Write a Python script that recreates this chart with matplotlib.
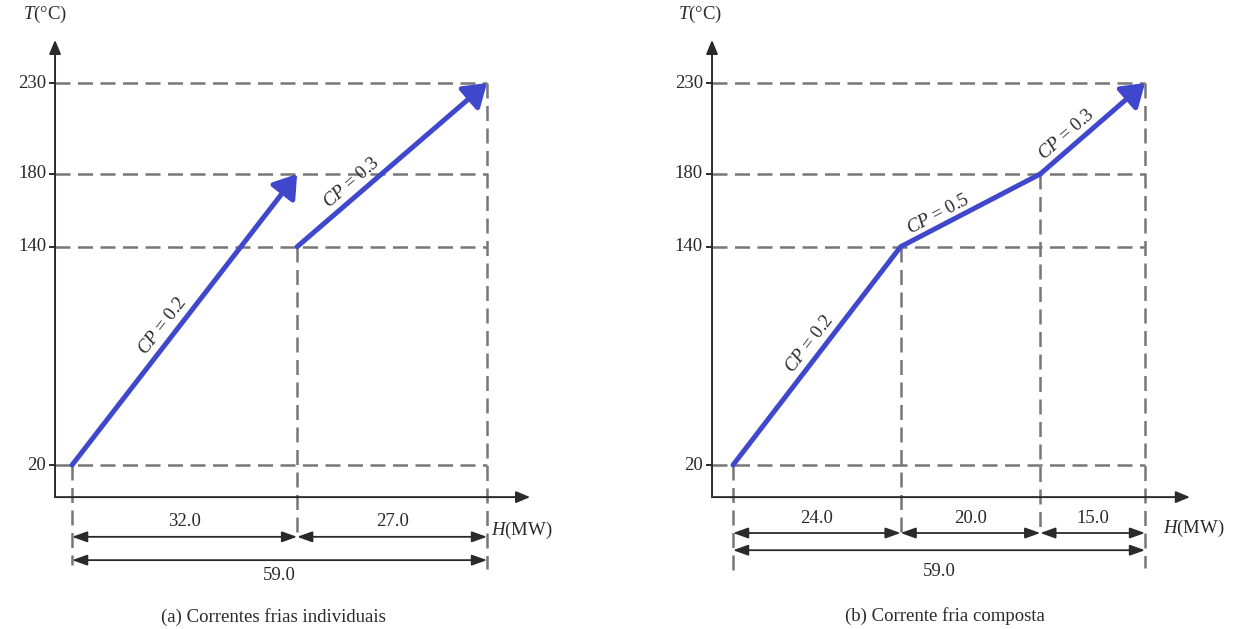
import numpy as np
import matplotlib
matplotlib.use('Agg')
import matplotlib.pyplot as plt

plt.rcParams['font.family'] = 'Liberation Serif'
plt.rcParams['mathtext.fontset'] = 'custom'
plt.rcParams['mathtext.rm'] = 'Liberation Serif'
plt.rcParams['mathtext.it'] = 'Liberation Serif:italic'

# temperatures marked on the T axis (°C)
t_ticks = [20, 140, 180, 230]

# (a) individual cold streams: H (MW) and T (°C) of each stream
a_h1 = [0, 32]
a_t1 = [20, 180]
a_cp1 = 0.2
a_h2 = [32, 59]
a_t2 = [140, 230]
a_cp2 = 0.3
a_spans = [32.0, 27.0]

# (b) composite cold curve
b_h = [0, 24, 44, 59]
b_t = [20, 140, 180, 230]
b_cp = [0.2, 0.5, 0.3]
b_spans = [24.0, 20.0, 15.0]

h_total = 59.0
captions = ['(a) Correntes frias individuais', '(b) Corrente fria composta']

BLUE = '#3f48cc'
GREY = '#777777'
INK = '#2a2a2a'
FS = 13.5

fig = plt.figure(figsize=(12.38, 6.29), dpi=100)
axa = fig.add_axes([0.0582, 0.2607, 0.3352, 0.6073])
axb = fig.add_axes([0.5921, 0.2607, 0.3328, 0.6073])


def ay(ax, frac):
    lo, hi = ax.get_ylim()
    return lo + frac * (hi - lo)


def ax_x(ax, frac):
    lo, hi = ax.get_xlim()
    return lo + frac * (hi - lo)


def dashed(ax, xs, ys):
    ln, = ax.plot(xs, ys, color=GREY, lw=1.8, clip_on=False)
    ln.set_dashes((6, 3))


def frame(ax, yax, xtip, tlab_x, hlab):
    ax.set_xlim(0, h_total)
    ax.set_ylim(min(t_ticks), max(t_ticks))
    ax.axis('off')
    x0 = ax_x(ax, yax)
    yb = ay(ax, -0.084)
    head = dict(arrowstyle='-|>,head_length=0.6,head_width=0.25', color=INK,
                lw=1.4, mutation_scale=14, shrinkA=0, shrinkB=0)
    ax.annotate('', xy=(x0, ay(ax, 1.113)), xytext=(x0, yb), arrowprops=head,
                annotation_clip=False)
    ax.annotate('', xy=(ax_x(ax, xtip), yb), xytext=(x0, yb), arrowprops=head,
                annotation_clip=False)
    for t in t_ticks:
        dashed(ax, [x0, h_total], [t, t])
        ax.plot([ax_x(ax, yax - 0.012), x0], [t, t], color=INK, lw=1.4, clip_on=False)
        ax.annotate(str(t), xy=(x0, t), xytext=(-9, 0), textcoords='offset pixels',
                    ha='right', va='center', fontsize=FS, color=INK,
                    annotation_clip=False)
    ax.text(ax_x(ax, tlab_x), ay(ax, 1.18), '$T$(°C)', ha='center', va='center',
            fontsize=FS, color=INK)
    ax.text(ax_x(ax, hlab[0]), ay(ax, hlab[1]), '$H$(MW)', ha='left', va='center',
            fontsize=FS, color=INK)


def dim(ax, xa, xb, y, label, ylab):
    ax.annotate('', xy=(xb, y), xytext=(xa, y), annotation_clip=False,
                arrowprops=dict(arrowstyle='<|-|>,head_length=0.7,head_width=0.25',
                                color=INK, lw=1.3, mutation_scale=13,
                                shrinkA=0, shrinkB=0))
    ax.text((xa + xb) / 2, ylab, label, ha='center', va='center', fontsize=FS,
            color=INK)


def cp_label(ax, h0, t0, h1, t1, frac, cp, off):
    p0 = ax.transData.transform((h0, t0))
    p1 = ax.transData.transform((h1, t1))
    ang = np.degrees(np.arctan2(p1[1] - p0[1], p1[0] - p0[0]))
    nx, ny = -np.sin(np.radians(ang)), np.cos(np.radians(ang))
    hx = h0 + frac * (h1 - h0)
    tx = t0 + frac * (t1 - t0)
    ax.annotate(f'$CP$ = {cp}', xy=(hx, tx), xytext=(off * nx, off * ny),
                textcoords='offset pixels', rotation=ang, rotation_mode='anchor',
                ha='center', va='center', fontsize=FS, color=INK)


def blue_arrow(ax, hs, ts):
    if len(hs) > 2:
        ax.plot(hs[:-1], ts[:-1], color=BLUE, lw=3.6, solid_capstyle='round',
                solid_joinstyle='round', clip_on=False)
    ax.annotate('', xy=(hs[-1], ts[-1]), xytext=(hs[-2], ts[-2]), annotation_clip=False,
                arrowprops=dict(arrowstyle='-|>,head_length=0.45,head_width=0.3',
                                color=BLUE, lw=3.6, mutation_scale=30,
                                shrinkA=0, shrinkB=0))


# ---- panel (a)
frame(axa, -0.041, 1.104, -0.065, (1.01, -0.17))
dashed(axa, [0, 0], [min(t_ticks), ay(axa, -0.262)])
dashed(axa, [a_h2[0], a_h2[0]], [a_t2[0], ay(axa, -0.183)])
dashed(axa, [h_total, h_total], [max(t_ticks), ay(axa, -0.272)])
blue_arrow(axa, a_h1, a_t1)
blue_arrow(axa, a_h2, a_t2)
cp_label(axa, a_h1[0], a_t1[0], a_h1[1], a_t1[1], 0.45, a_cp1, 13)
cp_label(axa, a_h2[0], a_t2[0], a_h2[1], a_t2[1], 0.33, a_cp2, 13)
edges = np.concatenate([[0], np.cumsum(a_spans)])
for i, s in enumerate(a_spans):
    dim(axa, edges[i], edges[i + 1], ay(axa, -0.188), f'{s:.1f}', ay(axa, -0.149))
dim(axa, 0, h_total, ay(axa, -0.249), f'{h_total:.1f}', ay(axa, -0.288))
axa.text(ax_x(axa, 0.485), ay(axa, -0.398), captions[0], ha='center', va='center',
         fontsize=FS, color=INK)

# ---- panel (b)
frame(axb, -0.051, 1.109, -0.08, (1.044, -0.165))
bottoms = [-0.285, -0.175, -0.17, -0.27]
for h, t, b in zip(b_h, b_t, bottoms):
    dashed(axb, [h, h], [t, ay(axb, b)])
blue_arrow(axb, b_h, b_t)
for i, (fr, off) in enumerate(zip([0.52, 0.31, 0.33], [13, 11, 13])):
    cp_label(axb, b_h[i], b_t[i], b_h[i + 1], b_t[i + 1], fr, b_cp[i], off)
edges = np.concatenate([[0], np.cumsum(b_spans)])
for i, s in enumerate(b_spans):
    dim(axb, edges[i], edges[i + 1], ay(axb, -0.178), f'{s:.1f}', ay(axb, -0.141))
dim(axb, 0, h_total, ay(axb, -0.223), f'{h_total:.1f}', ay(axb, -0.28))
axb.text(ax_x(axb, 0.515), ay(axb, -0.395), captions[1], ha='center', va='center',
         fontsize=FS, color=INK)

fig.savefig('out.png', dpi=100)
